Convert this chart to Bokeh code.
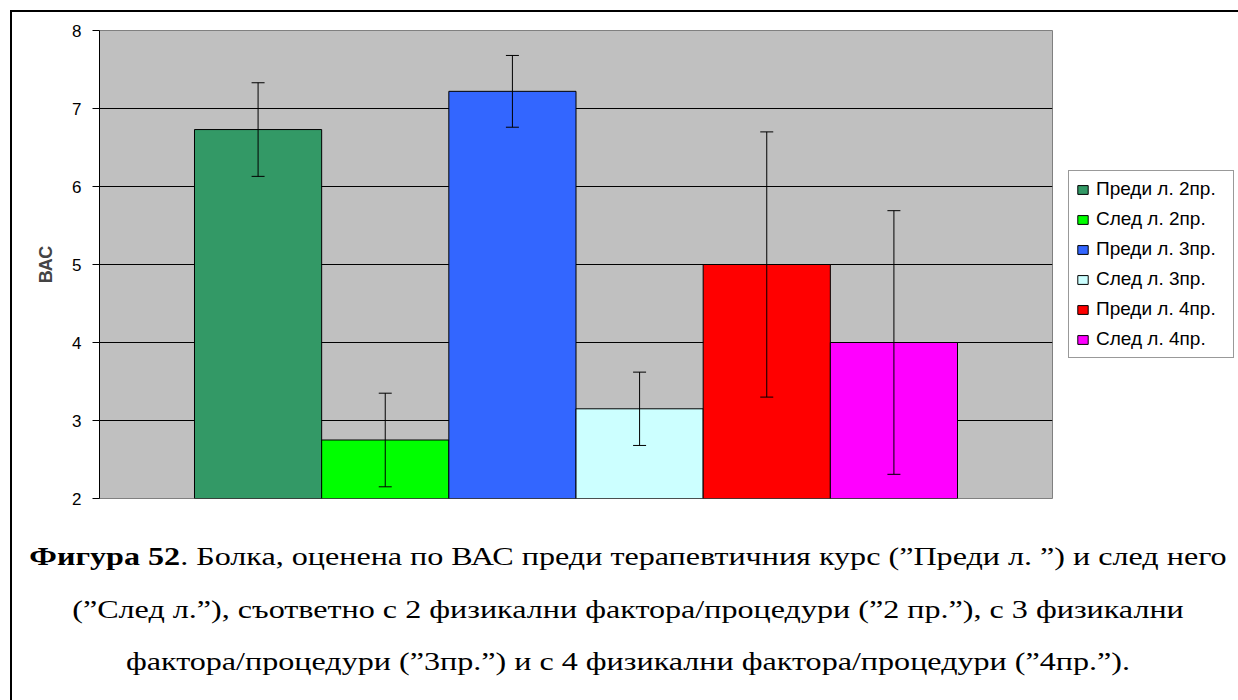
from bokeh.plotting import figure
from bokeh.models import (ColumnDataSource, Range1d, FixedTicker, Whisker, TeeHead,
                          Legend, LegendItem, Div)
from bokeh.layouts import column
from bokeh.embed import file_html
from bokeh.resources import INLINE

# ---- data ----
labels = ["Преди л. 2пр.", "След л. 2пр.", "Преди л. 3пр.",
          "След л. 3пр.", "Преди л. 4пр.", "След л. 4пр."]
means = [6.73, 2.75, 7.22, 3.15, 5.0, 4.0]
errors = [0.6, 0.6, 0.46, 0.47, 1.7, 1.69]
colors = ["#339966", "#00FF00", "#3366FF", "#CCFFFF", "#FF0000", "#FF00FF"]
y_ticks = [2, 3, 4, 5, 6, 7, 8]
y_label = "ВАС"
caption_bold = "Фигура 52"
caption_line1 = ". Болка, оценена по ВАС преди терапевтичния курс (”Преди л. ”) и след него"
caption_line2 = "(”След л.”), съответно с 2 физикални фактора/процедури (”2 пр.”), с 3 физикални"
caption_line3 = "фактора/процедури (”3пр.”) и с 4 физикални фактора/процедури (”4пр.”)."

xs = list(range(1, len(means) + 1))
src = ColumnDataSource(dict(
    x=xs, top=means, base=[y_ticks[0]] * len(means),
    upper=[m + e for m, e in zip(means, errors)],
    lower=[m - e for m, e in zip(means, errors)],
    color=colors, label=labels))

p = figure(frame_width=953, frame_height=468, output_backend="svg", toolbar_location=None,
           x_range=Range1d(0.5 - 0.747, len(means) + 0.5 + 0.747),
           y_range=Range1d(y_ticks[0], y_ticks[-1]),
           x_axis_location=None,
           min_border_left=87, min_border_right=182, min_border_top=18, min_border_bottom=22)
p.background_fill_color = "#C0C0C0"
p.border_fill_color = "white"
p.outline_line_color = "#808080"
p.outline_line_width = 1

p.xgrid.visible = False
p.ygrid.ticker = FixedTicker(ticks=y_ticks[1:-1])
p.ygrid.grid_line_color = "black"
p.ygrid.grid_line_width = 1

ax = p.yaxis[0]
ax.ticker = FixedTicker(ticks=y_ticks)
ax.axis_line_color = "black"
ax.major_tick_line_color = "black"
ax.major_tick_out = 7
ax.major_tick_in = 0
ax.minor_tick_line_color = None
ax.major_label_text_font = "Liberation Sans"
ax.major_label_text_font_size = "17px"
ax.major_label_text_color = "black"
ax.major_label_standoff = 11
ax.axis_label = y_label
ax.axis_label_text_font = "Liberation Sans"
ax.axis_label_text_font_style = "bold"
ax.axis_label_text_font_size = "18px"
ax.axis_label_standoff = 13

r = p.vbar(x="x", top="top", bottom="base", width=1.0, source=src,
           fill_color="color", line_color="black", line_width=1)

wh = Whisker(base="x", upper="upper", lower="lower", source=src, level="annotation",
             line_color="black", line_width=1,
             upper_head=TeeHead(size=13, line_color="black", line_width=1),
             lower_head=TeeHead(size=13, line_color="black", line_width=1))
p.add_layout(wh)

items = [LegendItem(label=lab, renderers=[r], index=i) for i, lab in enumerate(labels)]
leg = Legend(items=items, location=(16, 140), margin=0, padding=7,
             spacing=8, label_height=20, label_width=130, glyph_width=13, glyph_height=11,
             label_standoff=7, label_text_font="Liberation Sans",
             label_text_font_size="19px", label_text_color="black",
             border_line_color="#333333", border_line_width=1,
             background_fill_color="white", background_fill_alpha=1)
p.add_layout(leg, "right")

# ---- caption ----
html = (
    '<div style="font-family: \'Liberation Serif\', serif; font-size: 26px; color: black; '
    'text-align: center; line-height: 52.5px; white-space: nowrap; padding-top: 6px; '
    'width: 1232px; transform: translateX(-5px) scaleX(1.235); transform-origin: 616px 0px;">'
    f'<b>{caption_bold}</b>{caption_line1}<br>{caption_line2}<br>{caption_line3}</div>'
)
cap = Div(text=html, width=1222, height=172)

layout = column(p, cap, margin=(10, 0, 0, 10), spacing=0,
                styles={"border-top": "2px solid black", "border-left": "2px solid black"})

open("out.html", "w").write(file_html(layout, INLINE))
